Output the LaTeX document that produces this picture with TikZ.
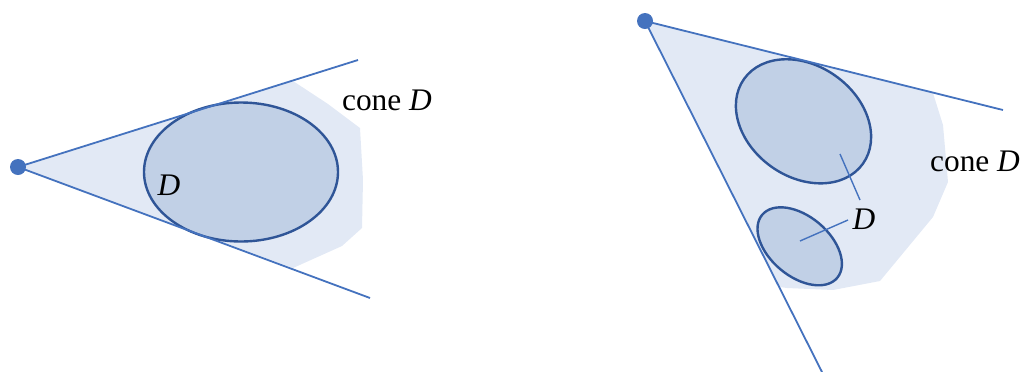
\documentclass[tikz,border=0pt]{standalone}
\usepackage{fontspec}
\setmainfont{Liberation Serif}
\definecolor{linec}{RGB}{68,114,190}
\definecolor{edgec}{RGB}{47,85,151}
\definecolor{ellfill}{RGB}{193,208,230}
\definecolor{conefill}{RGB}{226,233,245}
\tikzset{
  conearea/.style={fill=conefill, draw=none},
  setD/.style={fill=ellfill, draw=edgec, line width=1.2pt},
  rayline/.style={draw=linec, line width=0.9pt},
  leader/.style={draw=linec, line width=0.7pt},
  apexdot/.style={circle, fill=linec, inner sep=0pt, minimum size=8pt},
  lbl/.style={font=\fontsize{15.7}{18}\selectfont, inner sep=0pt}
}
\begin{document}
\begin{tikzpicture}[x=0.5pt, y=-0.5pt]
\useasboundingbox (0,0) rectangle (1023,371);
% ---------- left figure ----------
\coordinate (A1) at (18,167);
\coordinate (U1) at (358,60);
\coordinate (L1) at (370,298);
\fill[conearea] (A1) -- (293,81) -- (328,104) -- (360,128) -- (363,180) -- (362,228) -- (342,246) -- (293,268) -- cycle;
\draw[setD] (241,172) ellipse [x radius=48.5pt, y radius=34.75pt];
\draw[rayline] (A1) -- (U1);
\draw[rayline] (A1) -- (L1);
\node[apexdot] (P1) at (A1) {};
\node[lbl] (D1) at (169,185) {\itshape D};
\node[lbl] (C1) at (387,100) {cone \textit{D}};
% ---------- right figure ----------
\coordinate (A2) at (645,21);
\coordinate (U2) at (1003,110);
\coordinate (L2) at (822,372);
\fill[conearea] (A2) -- (933,93) -- (943,125) -- (948,182) -- (933,217) -- (880,281) -- (833,290) -- (787,288) -- (780,287) -- cycle;
\draw[setD, rotate around={-35.6:(803.5,121.3)}] (803.5,121.3) ellipse [x radius=36.5pt, y radius=27.8pt];
\draw[setD, rotate around={-40:(799.7,246.3)}] (799.7,246.3) ellipse [x radius=24.5pt, y radius=15pt];
\draw[rayline] (A2) -- (U2);
\draw[rayline] (A2) -- (L2);
\node[apexdot] (P2) at (A2) {};
\node[lbl] (D2) at (864,219) {\itshape D};
\node[lbl] (C2) at (975,161) {cone \textit{D}};
\coordinate (E1) at (840,154);
\coordinate (E2) at (800,241);
\draw[leader] (E1) -- (860,200);
\draw[leader] (E2) -- (848,220);
\end{tikzpicture}
\end{document}
